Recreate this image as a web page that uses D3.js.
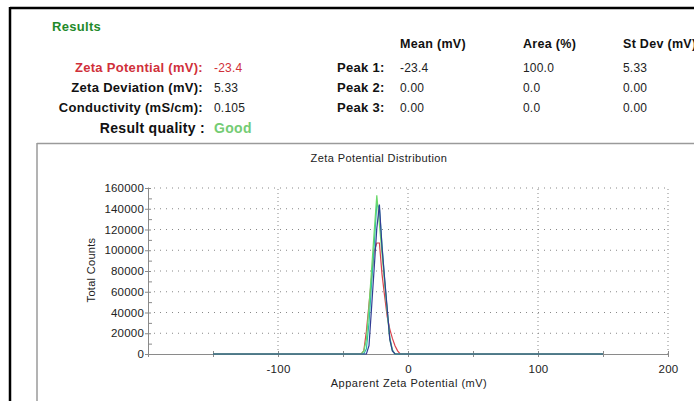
<!DOCTYPE html>
<html>
<head>
<meta charset="utf-8">
<script src="https://cdn.jsdelivr.net/npm/d3@7"></script>
<style>
  body { margin: 0; background: #fff; }
  svg { display: block; font-family: "Liberation Sans", Arial, sans-serif; }
</style>
</head>
<body>
<script>
// summary values
var summaryLabels = ['Zeta Potential (mV):', 'Zeta Deviation (mV):', 'Conductivity (mS/cm):'];
var summaryValues = ['-23.4', '5.33', '0.105'];
var peakLabels = ['Peak 1:', 'Peak 2:', 'Peak 3:'];
var peakHeaders = ['Mean (mV)', 'Area (%)', 'St Dev (mV)'];
var peakMean = ['-23.4', '0.00', '0.00'];
var peakArea = ['100.0', '0.0', '0.0'];
var peakStd = ['5.33', '0.00', '0.00'];

// distribution data (mV vs total counts), one array per run
var zetaMv = [-150, -38, -36, -34, -32, -30, -28, -26, -24, -22, -20, -18, -16, -14, -12, -10, -8, -6, -4, 150];
var run1 = [0, 0, 0, 3000, 22000, 48000, 74000, 99000, 107000, 107000, 77000, 56000, 36000, 24000, 15000, 8000, 3000, 0, 0, 0];
var run2 = [0, 0, 0, 0, 5000, 30000, 68000, 105000, 145000, 140000, 105000, 72000, 42000, 16000, 4000, 0, 0, 0, 0, 0];
var run3 = [0, 0, 0, 3000, 14000, 46000, 82000, 118000, 153000, 125000, 97000, 69000, 41000, 14000, 3000, 0, 0, 0, 0, 0];
var run4 = [0, 0, 0, 0, 0, 8000, 45000, 83000, 121000, 144000, 103000, 73000, 44000, 14000, 3000, 0, 0, 0, 0, 0];
var runColors = ['#d9434e', '#2bbfa8', '#6ad86a', '#313c94'];

var xTicks = [-200, -150, -100, -50, 0, 50, 100, 150, 200];
var xLabels = [-100, 0, 100, 200];
var yTicks = d3.range(0, 160001, 10000);
var yGrid = d3.range(20000, 160001, 20000);

var W = 694, H = 401;
var svg = d3.select('body').append('svg').attr('width', W).attr('height', H);

// frames
svg.append('line').attr('x1', 10).attr('x2', W).attr('y1', 8).attr('y2', 8).style('stroke', '#000').style('stroke-width', 2.5);
svg.append('line').attr('x1', 10).attr('x2', 10).attr('y1', 7).attr('y2', H).style('stroke', '#000').style('stroke-width', 2.5);
svg.append('line').attr('x1', 37).attr('x2', W).attr('y1', 143.5).attr('y2', 143.5).style('stroke', '#9a9a9a').style('stroke-width', 1.5);
svg.append('line').attr('x1', 37).attr('x2', 37).attr('y1', 143).attr('y2', H).style('stroke', '#9a9a9a').style('stroke-width', 1.5);

// results block
svg.append('text').attr('x', 52).attr('y', 31).text('Results')
  .style('font-size', '13px').style('font-weight', 'bold').style('fill', '#1f8a2a').style('letter-spacing', '0.3px');

var rowY = [72, 92, 112];
summaryLabels.forEach(function(s, i){
  svg.append('text').attr('x', 203).attr('y', rowY[i]).attr('text-anchor', 'end').text(s)
    .style('font-size', '13px').style('font-weight', 'bold').style('letter-spacing', '0.3px')
    .style('fill', i == 0 ? '#d0303a' : '#111');
  svg.append('text').attr('x', 214).attr('y', rowY[i]).text(summaryValues[i])
    .style('font-size', '12px').style('letter-spacing', '0.2px').style('fill', i == 0 ? '#d0303a' : '#222');
});
svg.append('text').attr('x', 205).attr('y', 133).attr('text-anchor', 'end').text('Result quality :')
  .style('font-size', '14px').style('font-weight', 'bold').style('letter-spacing', '0.3px').style('fill', '#111');
svg.append('text').attr('x', 214).attr('y', 133).text('Good')
  .style('font-size', '14px').style('font-weight', 'bold').style('letter-spacing', '0.3px').style('fill', '#74cc74');

var colX = [400, 523, 623];
peakHeaders.forEach(function(h, i){
  svg.append('text').attr('x', colX[i]).attr('y', 48).text(h)
    .style('font-size', '12.5px').style('font-weight', 'bold').style('letter-spacing', '0.3px').style('fill', '#111');
});
peakLabels.forEach(function(p, i){
  svg.append('text').attr('x', 337).attr('y', rowY[i]).text(p)
    .style('font-size', '13px').style('font-weight', 'bold').style('letter-spacing', '0.3px').style('fill', '#111');
  [peakMean, peakArea, peakStd].forEach(function(col, j){
    svg.append('text').attr('x', colX[j]).attr('y', rowY[i]).text(col[i])
      .style('font-size', '12px').style('letter-spacing', '0.2px').style('fill', '#222');
  });
});

// chart
var x = d3.scaleLinear().domain([-200, 200]).range([148, 668]);
var y = d3.scaleLinear().domain([0, 160000]).range([354, 188]);

svg.append('text').attr('x', 379).attr('y', 162).attr('text-anchor', 'middle')
  .text('Zeta Potential Distribution').style('font-size', '11px').style('letter-spacing', '0.4px').style('fill', '#222');

// grid
svg.append('g').selectAll('line').data(yGrid).enter().append('line')
  .attr('x1', x(-200)).attr('x2', x(200)).attr('y1', function(d){ return y(d); }).attr('y2', function(d){ return y(d); })
  .style('stroke', '#888').style('stroke-dasharray', '1,5');
svg.append('g').selectAll('line').data(xLabels).enter().append('line')
  .attr('x1', function(d){ return x(d); }).attr('x2', function(d){ return x(d); }).attr('y1', y(0)).attr('y2', y(160000))
  .style('stroke', '#888').style('stroke-dasharray', '1,3');

// axes
var xAxis = svg.append('g').attr('transform', 'translate(0,' + y(0) + ')')
  .call(d3.axisBottom(x).tickValues(xTicks).tickSize(3)
    .tickFormat(function(d){ return xLabels.indexOf(d) >= 0 ? d : ''; }));
xAxis.selectAll('line').attr('y1', -3).attr('y2', 3);
xAxis.selectAll('text').attr('y', 11).style('font-size', '11.5px').style('letter-spacing', '0.3px')
  .style('fill', '#222').style('font-family', '"Liberation Sans", Arial, sans-serif');

var yAxis = svg.append('g').attr('transform', 'translate(' + x(-200) + ',0)')
  .call(d3.axisLeft(y).tickValues(yTicks).tickSize(3)
    .tickFormat(function(d){ return d % 20000 == 0 ? d : ''; }));
yAxis.selectAll('.tick line').attr('x1', function(d){ return d % 20000 == 0 ? -3 : 0; })
  .attr('x2', function(d){ return d % 20000 == 0 ? 3 : 4; });
yAxis.selectAll('text').attr('x', -4).style('font-size', '11.5px').style('letter-spacing', '0.2px')
  .style('fill', '#222').style('font-family', '"Liberation Sans", Arial, sans-serif');
svg.selectAll('.domain, .tick line').style('stroke', '#8a8a8a');

svg.append('text').attr('transform', 'translate(95,270) rotate(-90)').attr('text-anchor', 'middle')
  .text('Total Counts').style('font-size', '11px').style('letter-spacing', '0.3px').style('fill', '#222');
svg.append('text').attr('x', 409).attr('y', 387).attr('text-anchor', 'middle')
  .text('Apparent Zeta Potential (mV)').style('font-size', '11px').style('letter-spacing', '0.5px').style('fill', '#222');

// series
var line = d3.line().x(function(d, i){ return x(zetaMv[i]); }).y(function(d){ return y(d); });
[run1, run2, run3, run4].forEach(function(r, i){
  svg.append('path').datum(r).attr('d', line)
    .style('fill', 'none').style('stroke', runColors[i]).style('stroke-width', 1.2);
});
</script>
</body>
</html>
